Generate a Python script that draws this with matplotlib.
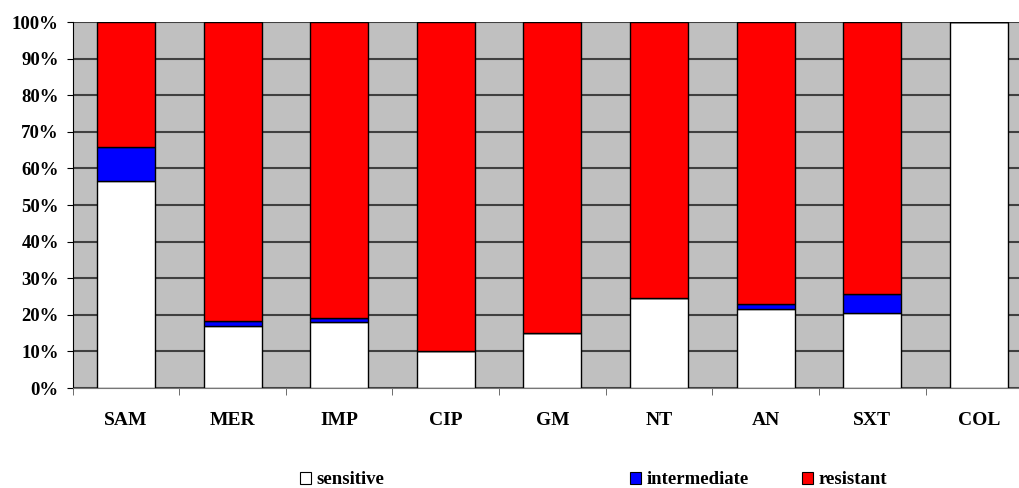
import numpy as np
import matplotlib
matplotlib.use('Agg')
import matplotlib.pyplot as plt
from matplotlib.patches import Patch

# antibiotic resistance profile (percent of isolates)
drugs = ['SAM', 'MER', 'IMP', 'CIP', 'GM', 'NT', 'AN', 'SXT', 'COL']
sensitive = [56.6, 17.0, 18.0, 10.0, 15.1, 24.6, 21.5, 20.6, 100.0]
intermediate = [9.2, 1.2, 1.0, 0.0, 0.0, 0.0, 1.4, 5.1, 0.0]
resistant = [34.2, 81.8, 81.0, 90.0, 84.9, 75.4, 77.1, 74.3, 0.0]

plt.rcParams['font.family'] = ['Liberation Serif', 'DejaVu Serif']
plt.rcParams['font.weight'] = 'bold'

fig = plt.figure(figsize=(10.19, 4.88), dpi=100)
ax = fig.add_axes([0.0713, 0.2049, 0.9416, 0.75])
ax.set_facecolor('#C0C0C0')

x = np.arange(len(drugs))
w = 0.545
sens = np.array(sensitive)
inter = np.array(intermediate)
res = np.array(resistant)
ax.bar(x, sens, w, color='white', edgecolor='black', linewidth=1, zorder=3)
ax.bar(x, inter, w, bottom=sens, color='#0000FF', edgecolor='black', linewidth=1, zorder=3)
ax.bar(x, res, w, bottom=sens + inter, color='#FF0000', edgecolor='black', linewidth=1, zorder=3)

ax.set_xlim(-0.5, len(drugs) - 0.5)
ax.set_ylim(0, 100)
ax.set_yticks(np.arange(0, 101, 10))
ax.set_yticklabels([f'{v}%' for v in range(0, 101, 10)], fontsize=13.5, fontweight='bold')
ax.yaxis.grid(True, color='#404040', linewidth=1.5, zorder=1)
ax.set_axisbelow(True)

ax.set_xticks(x)
ax.set_xticklabels(drugs, fontsize=14, fontweight='bold')
ax.tick_params(axis='x', which='major', length=0, pad=17)
ax.set_xticks(np.arange(len(drugs)) - 0.5, minor=True)
ax.tick_params(axis='x', which='minor', length=5, color='#555555')
ax.tick_params(axis='y', length=4, pad=6)

for s in ['top', 'right']:
    ax.spines[s].set_visible(False)
ax.spines['bottom'].set_color('#777777')
ax.spines['left'].set_color('black')

labels = ['sensitive', 'intermediate', 'resistant']
colors = ['white', '#0000FF', '#FF0000']
xpos = [0.283, 0.607, 0.776]
for lab, c, xp in zip(labels, colors, xpos):
    fig.legend(handles=[Patch(facecolor=c, edgecolor='black', linewidth=0.8)], labels=[lab],
               loc='center left', bbox_to_anchor=(xp, 0.017), frameon=False,
               handlelength=0.6, handleheight=0.6, handletextpad=0.3, borderpad=0.1,
               prop={'family': 'Liberation Serif', 'weight': 'bold', 'size': 13.5})

fig.savefig('out.png', dpi=100)
